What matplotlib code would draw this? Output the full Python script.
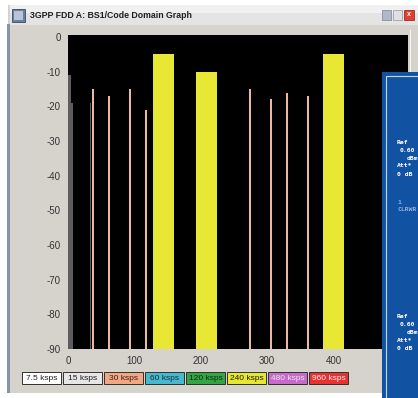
import matplotlib
matplotlib.use("Agg")
import matplotlib.pyplot as plt
from matplotlib.patches import Rectangle

# code domain power, codes on a 512 scale
gray_start = [0, 5, 33]
gray_width = [4, 2, 2]
gray_power = [-11, -19, -19]

salmon_start = [36, 60, 92, 116, 272, 304, 328, 360]
salmon_power = [-15, -17, -15, -21, -15, -18, -16, -17]

yellow_start = [128, 192, 384]
yellow_power = [-5, -10, -5]

y_ticks = [0, -10, -20, -30, -40, -50, -60, -70, -80, -90]
x_ticks = [0, 100, 200, 300, 400]

legend_labels = ["7.5 ksps", "15 ksps", "30 ksps", "60 ksps",
                 "120 ksps", "240 ksps", "480 ksps", "960 ksps"]
legend_colors = ["#ffffff", "#e6e6e6", "#f0a884", "#48b8cc",
                 "#34a444", "#e6e634", "#c46cc8", "#e83232"]
legend_text = ["#202020", "#202020", "#402010", "#103040",
               "#103010", "#202000", "#f0e0f0", "#fff0f0"]

W, H = 418, 398
fig = plt.figure(figsize=(W / 100, H / 100), dpi=100)
fig.patch.set_facecolor("white")
plt.rcParams['font.family'] = ['Liberation Sans', 'DejaVu Sans']
plt.rcParams['axes.unicode_minus'] = False


def px_rect(x, y, w, h, z=-5, **kw):
    # rectangle given in pixel coords from top-left
    r = Rectangle((x / W, 1 - (y + h) / H), w / W, h / H,
                  transform=fig.transFigure, zorder=z, **kw)
    fig.patches.append(r)
    return r


def px_text(x, y, s, **kw):
    fig.text(x / W, 1 - y / H, s, **kw)


# window body and frame
px_rect(8, 5, 410, 388, facecolor="#d6d3cd", edgecolor="none")
px_rect(7, 24, 3, 369, facecolor="#8794b0", edgecolor="none")
# title bar
px_rect(10, 5, 408, 20, facecolor="#e4e4e4", edgecolor="none")
px_rect(10, 5, 408, 8, facecolor="#f0f0f0", edgecolor="none")
px_rect(12, 9, 13, 13, facecolor="#6b7fa0", edgecolor="#404858", lw=0.6)
px_rect(14, 11, 9, 9, facecolor="#b8c4d8", edgecolor="none")
px_text(30, 15, "3GPP FDD A: BS1/Code Domain Graph", fontsize=6.3,
        fontweight="bold", color="#202020", va="center")
px_rect(382, 10, 9, 10, facecolor="#b0b8c8", edgecolor="#8890a0", lw=0.6)
px_rect(393, 10, 9, 10, facecolor="#e0e0e4", edgecolor="#a0a4b0", lw=0.6)
px_rect(404, 10, 10, 10, facecolor="#e04030", edgecolor="#a03020", lw=0.6)
px_text(409, 15, "x", fontsize=5, color="white", ha="center", va="center",
        fontweight="bold")
px_rect(410, 30, 1, 340, facecolor="#f4f4f4", edgecolor="none")

# plot area
ax = fig.add_axes([68 / W, 1 - 349 / H, (408 - 68) / W, (349 - 35) / H])
ax.set_facecolor("black")
ax.bar(gray_start, [p + 90 for p in gray_power], width=gray_width,
       bottom=-90, align="edge", color="#5c5c5c")
ax.bar(salmon_start, [p + 90 for p in salmon_power], width=3.4,
       bottom=-90, align="edge", color="#ecb8a4")
ax.bar(yellow_start, [p + 90 for p in yellow_power], width=32,
       bottom=-90, align="edge", color="#e8e834")
ax.set_xlim(0, 512)
ax.set_ylim(-90, 0.6)
ax.set_yticks(y_ticks)
ax.set_xticks(x_ticks)
ax.tick_params(length=0, labelsize=7, colors="#333333", pad=5)
for s in ax.spines.values():
    s.set_visible(False)

# legend boxes
x0 = 22
for lab, fc, tc in zip(legend_labels, legend_colors, legend_text):
    px_rect(x0, 372, 39, 12, facecolor=fc, edgecolor="#303030", lw=0.7)
    px_text(x0 + 19.5, 378.5, lab, fontsize=6, color=tc, ha="center",
            va="center")
    x0 += 41

# blue side panel, drawn over the plot area
px_rect(382, 72, 36, 326, z=5, facecolor="#1252a2", edgecolor="none")
px_rect(385.5, 75.5, 40, 330, z=6, facecolor="none", edgecolor="#c8d4e8",
        lw=0.8)
mono = dict(fontsize=4.6, family="DejaVu Sans Mono", fontweight="bold",
            va="center", zorder=7)
for y0 in (142, 317):
    px_text(397, y0, "Ref", color="white", **mono)
    px_text(400, y0 + 8, "0.60", color="white", **mono)
    px_text(407, y0 + 16, "dBm", color="white", **mono)
    px_text(397, y0 + 24, "Att*", color="white", **mono)
    px_text(397, y0 + 32, "0 dB", color="white", **mono)
px_text(397, 202, "1", color="#8fb0e0", **mono)
px_text(397, 210, "CLRWR", color="#8fb0e0", **mono)

fig.savefig("out.png", dpi=100)
